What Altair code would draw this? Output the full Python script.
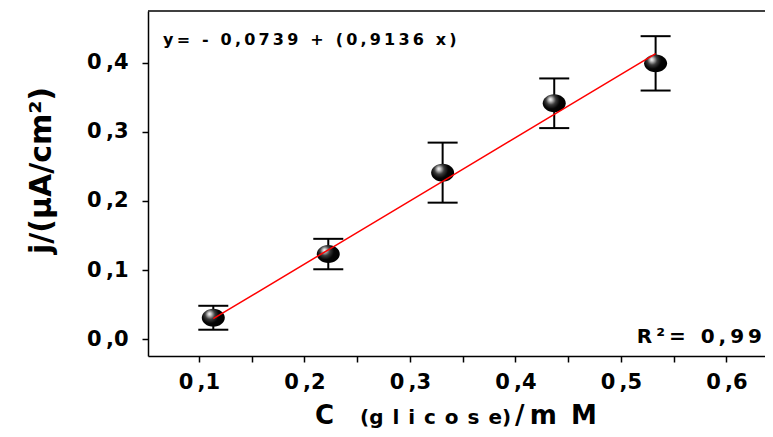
import altair as alt
import pandas as pd

# ---- data ----
conc = [0.1136, 0.2226, 0.331, 0.4368, 0.5329]      # C (glicose) / mM
j_val = [0.0312, 0.1233, 0.241, 0.3413, 0.399]      # j / (uA/cm2)
j_err = [0.0173, 0.022, 0.0434, 0.0359, 0.0393]     # error bar half-widths

fit_intercept = -0.0739
fit_slope = 0.9136

x_ticks_major = [0.1, 0.2, 0.3, 0.4, 0.5, 0.6]
x_ticks_minor = [0.15, 0.25, 0.35, 0.45, 0.55]
y_ticks_major = [0.0, 0.1, 0.2, 0.3, 0.4]
y_ticks_minor = [0.05, 0.15, 0.25, 0.35, 0.45]

x_domain = [0.0517, 0.6366]
y_domain = [-0.0241, 0.4747]

eq_text = "y= - 0,0739 + (0,9136 x)"
r2_text = "R²= 0,99"
y_title = "j/(µA/cm²)"
x_title_main = "C"
x_title_sub = "(glicose)"
x_title_unit = "/mM"

THIN = "\u2009"
HAIR = "\u200a"
FONT = "DejaVu Sans"

W, H = 617, 345


def spaced(s, sep=THIN):
    return sep.join(s)


df = pd.DataFrame({"conc": conc, "j": j_val, "err": j_err})
base = alt.Chart(df)

xs = alt.Scale(domain=x_domain, nice=False, zero=False)
ys = alt.Scale(domain=y_domain, nice=False, zero=False)


def label_expr(majors):
    return (f"indexof({majors}, datum.value) >= 0 ? "
            f"replace(format(datum.value, '.1f'), '.', '{THIN},') : ''")


x_axis = alt.Axis(
    values=sorted(x_ticks_major + x_ticks_minor), labelExpr=label_expr(x_ticks_major),
    title=None, grid=False, tickSize=6, tickWidth=1.5, tickColor="black",
    domainColor="black", domainWidth=1.5, labelFont=FONT, labelFontWeight="bold",
    labelFontSize=21, labelColor="black", labelPadding=9, labelFlush=False,
    labelOverlap=False,
)
y_axis = alt.Axis(
    values=sorted(y_ticks_major + y_ticks_minor), labelExpr=label_expr(y_ticks_major),
    title=y_title, grid=False, tickSize=6, tickWidth=1.5, tickColor="black",
    domainColor="black", domainWidth=1.5, labelFont=FONT, labelFontWeight="bold",
    labelFontSize=21, labelColor="black", labelPadding=14, labelFlush=False,
    labelOverlap=False, titleFont=FONT, titleFontWeight="bold", titleFontSize=30,
    titleColor="black", titleX=-98, titleY=159, titleAngle=270,
    titleBaseline="alphabetic", titleAlign="center",
)

ebars = base.transform_calculate(
    lo="datum.j - datum.err", hi="datum.j + datum.err"
).mark_rule(color="black", strokeWidth=2).encode(
    x=alt.X("conc:Q", scale=xs, axis=x_axis),
    y=alt.Y("lo:Q", scale=ys, axis=y_axis),
    y2="hi:Q",
)

caps = base.transform_calculate(
    lo="datum.j - datum.err", hi="datum.j + datum.err"
).transform_fold(["lo", "hi"], as_=["end", "val"]).mark_tick(
    orient="horizontal", size=30, thickness=2, color="black", opacity=1
).encode(x=alt.X("conc:Q", scale=xs), y=alt.Y("val:Q", scale=ys))

ellipse = "M-1,0A1,0.78,0,1,1,1,0A1,0.78,0,1,1,-1,0Z"
sphere_fill = {
    "gradient": "radial",
    "x1": 0.33, "y1": 0.33, "r1": 0,
    "x2": 0.4, "y2": 0.4, "r2": 0.62,
    "stops": [
        {"offset": 0.0, "color": "#ffffff"},
        {"offset": 0.12, "color": "#c8c8c8"},
        {"offset": 0.35, "color": "#3a3a3a"},
        {"offset": 0.6, "color": "#050505"},
        {"offset": 1.0, "color": "#000000"},
    ],
}
points = base.mark_point(
    shape=ellipse, size=529, filled=True, fill=sphere_fill, opacity=1, strokeWidth=0
).encode(x=alt.X("conc:Q", scale=xs), y=alt.Y("j:Q", scale=ys))

fit_line = base.transform_calculate(
    fit=f"{fit_intercept} + {fit_slope} * datum.conc"
).mark_line(color="#ff0000", strokeWidth=1.5).encode(
    x=alt.X("conc:Q", scale=xs), y=alt.Y("fit:Q", scale=ys)
)

top_border = alt.Chart(pd.DataFrame({"a": [0]})).mark_rule(
    color="black", strokeWidth=1.5
).encode(x=alt.value(0), x2=alt.value(W), y=alt.value(0))


def text_layer(txt, x, y, size, align="left"):
    return alt.Chart(pd.DataFrame({"t": [txt]})).mark_text(
        font=FONT, fontWeight="bold", fontSize=size, color="black",
        align=align, baseline="alphabetic",
    ).encode(text="t:N", x=alt.value(x), y=alt.value(y))


eq = text_layer(spaced(eq_text), 15, 34, 16)
r2 = text_layer(spaced(r2_text), 614, 332, 20, align="right")
xt1 = text_layer(x_title_main, 167, 413, 26)
xt2 = text_layer(x_title_sub[0] + (" " + HAIR).join(x_title_sub[1:-1]) + x_title_sub[-1],
                 212, 413, 20)
xt3 = text_layer(x_title_unit[0] + THIN + x_title_unit[1] + THIN + " " + x_title_unit[2],
                 367, 413, 26)

chart = alt.layer(
    ebars, caps, points, fit_line, top_border, eq, r2, xt1, xt2, xt3
).properties(
    width=W, height=H,
    autosize=alt.AutoSizeParams(type="none"),
    padding={"left": 140, "top": 3, "right": 0, "bottom": 73},
    background="white",
).configure_view(stroke=None)

chart.save("out.html", embed_options={"renderer": "svg", "actions": False})
